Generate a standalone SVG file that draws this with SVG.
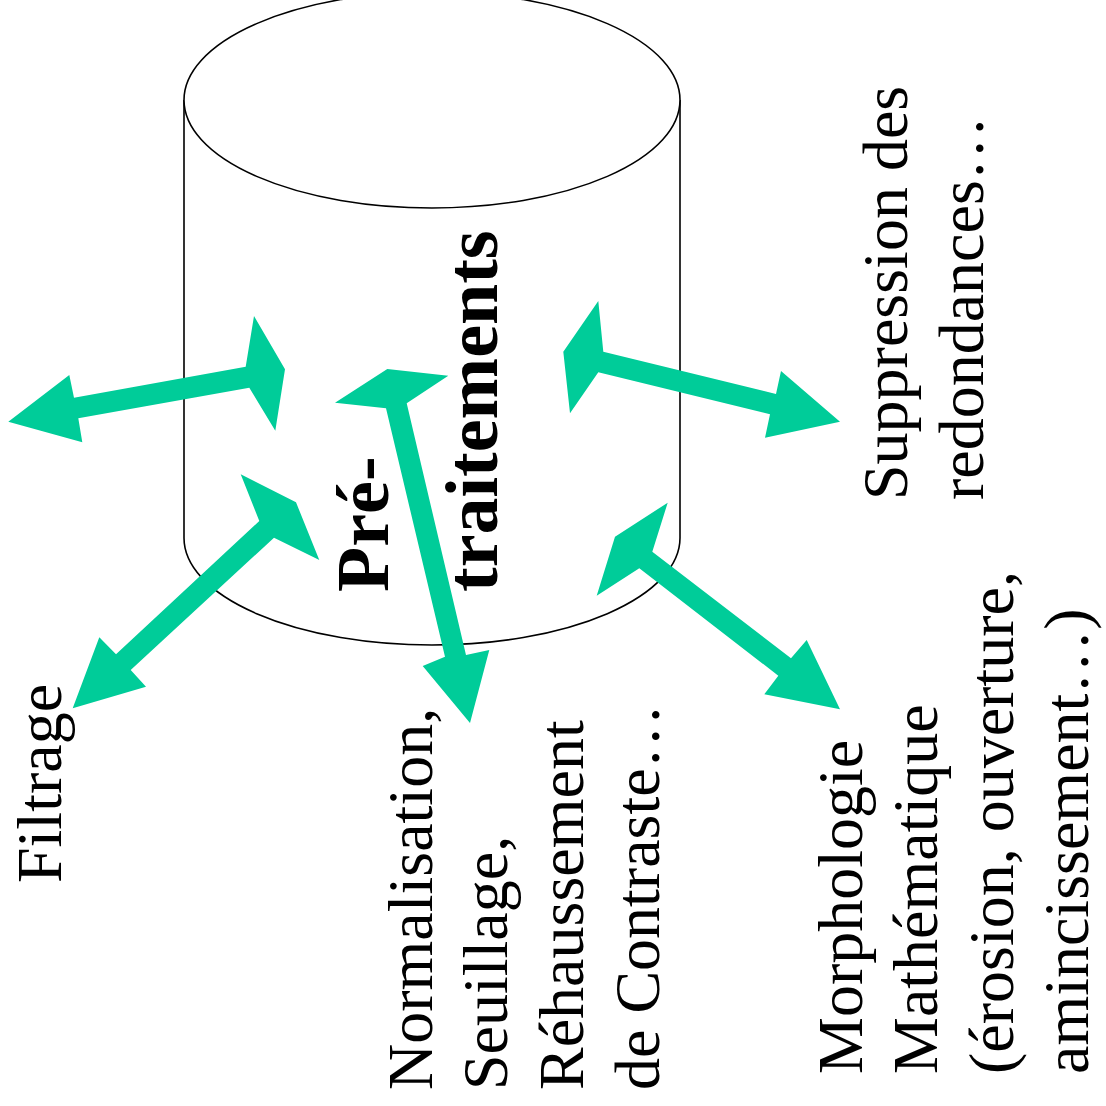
<svg xmlns="http://www.w3.org/2000/svg" width="1106" height="1106" viewBox="0 0 1106 1106">
<style>
.t{font-family:"Liberation Serif","Times New Roman",serif;font-size:64px;fill:#000}
.b{font-family:"Liberation Serif","Times New Roman",serif;font-size:74px;font-weight:bold;fill:#000}
.cyl{fill:#fff;stroke:#000;stroke-width:1.6}
.arr{fill:#00CC99;stroke:none}
</style>
<rect width="1106" height="1106" fill="#fff"/>
<g id="cylinder">
<path class="cyl" d="M184,100 L184,538 A248,107 0 0 0 680,538 L680,100"/>
<ellipse class="cyl" cx="432" cy="100" rx="248" ry="108"/>
<text class="b" transform="translate(388,592) rotate(-90)">Pré-</text>
<text class="b" transform="translate(497,592) rotate(-90)">traitements</text>
</g>
<g id="connectors">
<path class="arr" d="M8.3,421.7 L69.3,375 L74,397.7 L245.7,366.7 L254,316 L285,369.3 L275.3,430.7 L249.3,387.7 L78.3,418.3 L82.3,442.3 Z"/>
<path class="arr" d="M240.7,474.3 L296,502.3 L319.3,560 L274,537.7 L130.7,670 L146,686.7 L72.7,708.3 L99.3,637.3 L116,654.3 L259.3,521 Z"/>
<path class="arr" d="M335,402.7 L387.3,369 L448.3,375.7 L406.7,403.3 L466,655 L489.3,650 L470,723 L422.7,666 L445,656.7 L386,408.3 Z"/>
<path class="arr" d="M598.3,301 L563.3,351.7 L570,413.3 L598.3,372.3 L770,414.3 L765,437.7 L840,421.7 L781,371 L776,394 L603.3,351.7 Z"/>
<path class="arr" d="M667.7,502.7 L615,536.7 L596.7,595.7 L639.3,568.3 L778.3,675.7 L764.3,694.3 L840,709.3 L806.7,640 L791,658.3 L652.3,551.7 Z"/>
</g>
<g id="filtrage">
<text class="t" transform="translate(61,883) rotate(-90)">Filtrage</text>
</g>
<g id="normalisation">
<text class="t" transform="translate(432,1090) rotate(-90)">Normalisation,</text>
<text class="t" transform="translate(507,1090) rotate(-90)">Seuillage,</text>
<text class="t" transform="translate(583,1090) rotate(-90)">Réhaussement</text>
<text class="t" transform="translate(659,1090) rotate(-90)">de Contraste…</text>
</g>
<g id="morphologie">
<text class="t" transform="translate(862,1074) rotate(-90)">Morphologie</text>
<text class="t" transform="translate(937,1074) rotate(-90)">Mathématique</text>
<text class="t" transform="translate(1013,1074) rotate(-90)">(érosion, ouverture,</text>
<text class="t" transform="translate(1088,1074) rotate(-90)">amincissement…)</text>
</g>
<g id="suppression">
<text class="t" transform="translate(907,500) rotate(-90)">Suppression des</text>
<text class="t" transform="translate(983,500) rotate(-90)">redondances…</text>
</g>
</svg>
